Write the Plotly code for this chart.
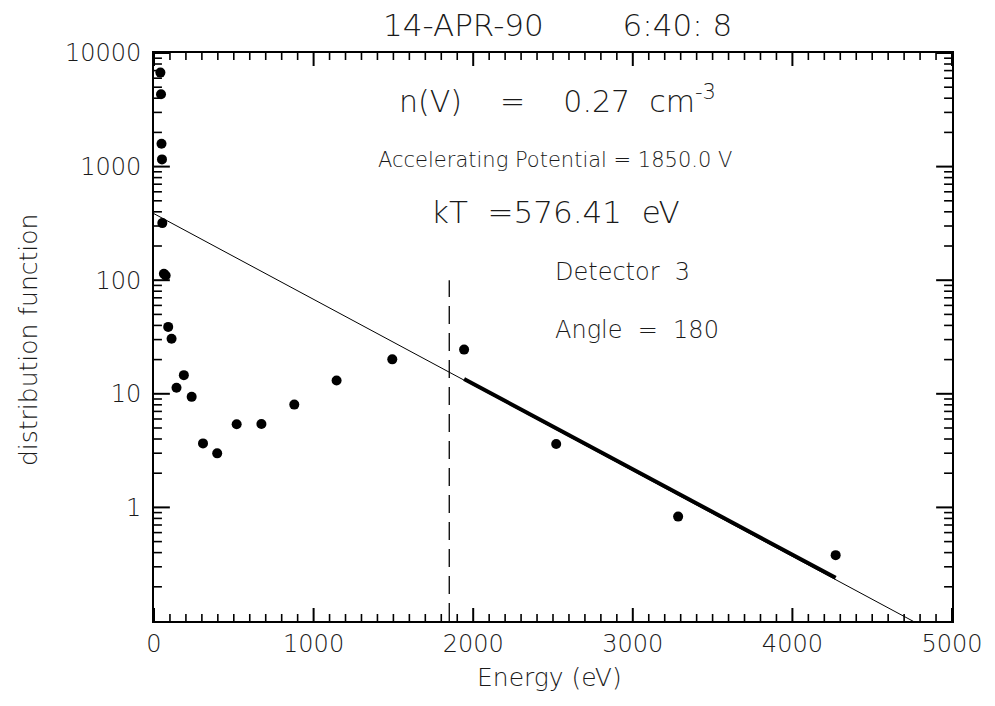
import plotly.graph_objects as go

# ---- data ----
energy = [40, 44, 47, 50, 52, 62, 73, 89, 110, 141, 187, 236, 307, 396, 518, 673, 879,
          1144, 1493, 1943, 2520, 3284, 4271]
dist = [6720, 4330, 1590, 1157, 318, 114, 110, 38.8, 30.5, 11.3, 14.6, 9.4, 3.66, 2.99,
        5.39, 5.43, 8.03, 13.1, 20.1, 24.5, 3.62, 0.83, 0.38]

fit_energy = [0, 4780]
fit_dist = [385, 0.0955]
fit_used_energy = [1943, 4271]
fit_used_dist = [13.5, 0.24]

accel_energy = [1850, 1850]
accel_dist = [0.1, 100]

x_tickvals = [0, 1000, 2000, 3000, 4000, 5000]
x_ticktext = ["0", "1000", "2000", "3000", "4000", "5000"]
y_tickvals = [1, 10, 100, 1000, 10000]
y_ticktext = ["1", "10", "100", "1000", "10000"]

# minor tick positions (axis decoration)
x_minor = [v for v in range(100, 5000, 100) if v % 1000 != 0]
y_minor = [m * 10.0 ** d for d in range(-1, 4) for m in range(2, 10)]

FONT = "DejaVu Sans"
INK = "#000000"
TXT = "#1a1a1a"

# plot box in pixels
L, R, T, B = 154, 959, 53, 621
W, H = 995, 706
PW, PH = R - L, B - T
XR = [0, 5000]
YR = [-1, 4]


def px(xp):
    return (xp - L) / PW


def py(yp):
    return (B - yp) / PH


fig = go.Figure()

fig.add_trace(go.Scatter(x=fit_energy, y=fit_dist, mode="lines",
                         line=dict(color=INK, width=1), showlegend=False))
fig.add_trace(go.Scatter(x=fit_used_energy, y=fit_used_dist, mode="lines",
                         line=dict(color=INK, width=4), showlegend=False))
fig.add_trace(go.Scatter(x=accel_energy, y=accel_dist, mode="lines",
                         line=dict(color=INK, width=1.3, dash="18px,9px"), showlegend=False))
fig.add_trace(go.Scatter(x=energy, y=dist, mode="markers",
                         marker=dict(color=INK, size=10, line=dict(width=0)),
                         showlegend=False))

ann = []


def add_text(text, x, y, size, xanchor="center", textangle=0):
    ann.append(dict(text=text, x=px(x), y=py(y), xref="paper", yref="paper",
                    showarrow=False, xanchor=xanchor, yanchor="middle",
                    textangle=textangle,
                    font=dict(family=FONT, size=size, color=TXT, weight=300)))


NB = "\u00a0"
add_text("14-APR-90" + NB * 8 + "6:40:" + NB + "8", 561, 25, 31)
add_text("n(V)" + NB * 4 + "=" + NB * 4 + "0.27" + NB * 2 + "cm<sup>-3</sup>", 561, 100, 30)
add_text("Accelerating Potential = 1850.0 V", 559, 160, 21)
add_text("kT" + NB * 2 + "=576.41" + NB * 2 + "eV", 559, 212, 31)
add_text("Detector" + NB * 2 + "3", 557, 272, 24, xanchor="left")
add_text("Angle" + NB * 2 + "=" + NB * 2 + "180", 557, 330, 24, xanchor="left")
add_text("distribution function", 28, 340, 25, textangle=-90)
add_text("Energy (eV)", 553, 677, 25)

# tick marks drawn inward on all four sides (IDL style)
shapes = []


def xtick(v, length, width):
    for y0, y1 in ((0, length / PH), (1, 1 - length / PH)):
        shapes.append(dict(type="line", xref="x", yref="paper", x0=v, x1=v, y0=y0, y1=y1,
                           line=dict(color=INK, width=width), layer="above"))


def ytick(v, length, width):
    for x0, x1 in ((0, length / PW), (1, 1 - length / PW)):
        shapes.append(dict(type="line", xref="paper", yref="y", x0=x0, x1=x1, y0=v, y1=v,
                           line=dict(color=INK, width=width), layer="above"))


for v in x_tickvals:
    xtick(v, 13, 2)
for v in x_minor:
    xtick(v, 7, 1.6)
for v in y_tickvals:
    ytick(v, 16, 2)
for v in y_minor:
    ytick(v, 8, 1.6)

tickfont = dict(family=FONT, size=24, color=TXT, weight=300)

fig.update_layout(
    width=W, height=H,
    margin=dict(l=L, r=W - R, t=T, b=H - B),
    paper_bgcolor="white", plot_bgcolor="white",
    annotations=ann,
    shapes=shapes,
    showlegend=False,
    xaxis=dict(range=XR, tickmode="array", tickvals=x_tickvals, ticktext=x_ticktext,
               ticks="", showgrid=False, zeroline=False,
               showline=True, linecolor=INK, linewidth=1.8, mirror=True,
               tickfont=tickfont),
    yaxis=dict(type="log", range=YR, tickmode="array", tickvals=y_tickvals,
               ticktext=y_ticktext, ticks="", ticklabelstandoff=6, showgrid=False,
               zeroline=False, showline=True, linecolor=INK, linewidth=1.8, mirror=True,
               tickfont=tickfont),
)

fig.write_html("out.html")
